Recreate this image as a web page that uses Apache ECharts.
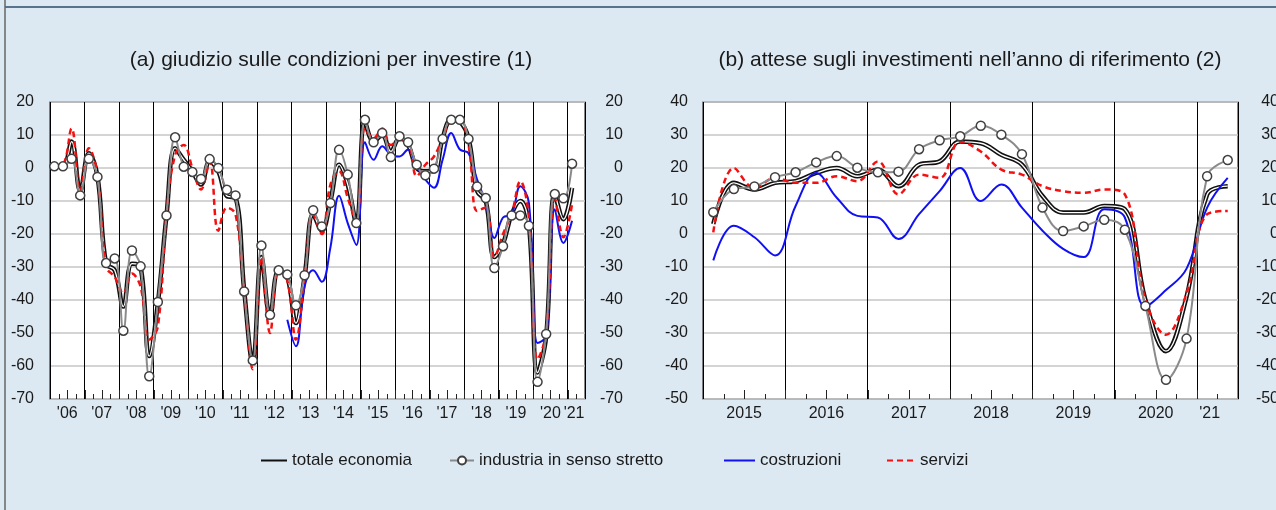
<!DOCTYPE html>
<html><head><meta charset="utf-8">
<script src="https://cdn.jsdelivr.net/npm/echarts@6/dist/echarts.min.js"></script>
<style>html,body{margin:0;padding:0;background:#dde9f2}#c{width:1276px;height:510px}</style>
</head><body><div id="c"></div><script>
// ---------- data: panel (a) quarterly 2006Q1..2021Q2 ----------
const yearsA = [2006,2007,2008,2009,2010,2011,2012,2013,2014,2015,2016,2017,2018,2019,2020,2021];
const yearLabelsA = ["'06","'07","'08","'09","'10","'11","'12","'13","'14","'15","'16","'17","'18","'19","'20","'21"];
const catsA = yearsA.flatMap(y => ['Q1','Q2','Q3','Q4'].map(q => y + q)).slice(0, 62);

const totaleA = [0.5,0.5,8,-7,4.5,-2.5,-29,-31,-42,-29,
  -30,-57,-41,-14.4,6,2.5,-1,-5,2,-1,
  -8.5,-9,-37,-59,-27,-45,-31,-33,-47,-33,
  -14,-19,-10,1,-5,-16.7,14,8,10,5,
  9,7,0,-1,-1,9,14.6,14,9,-7,
  -10,-27,-23,-14,-10,-17,-62,-51,-8,-15.5,
  -6];
const industriaA = [0.5,0.5,2.8,-8.3,2.8,-2.7,-28.8,-27.4,-49.3,-25,
  -29.8,-63.1,-40.6,-14.4,9.3,0.4,-1.2,-3.3,2.7,0,
  -6.6,-8.3,-37.4,-58.3,-23.5,-44.5,-31,-32.3,-41.6,-32.5,
  -12.8,-17.7,-10.6,5.5,-2,-16.7,14.6,7.8,10.6,3.3,
  9.6,7.8,1,-2.2,-0.2,8.8,14.6,14.6,8.8,-5.6,
  -9.1,-30.3,-23.7,-14.4,-14.4,-17.5,-64.8,-50.3,-7.9,-9.2,
  1.3];
const costruzioniA = [null,null,null,null,null,null,null,null,null,null,
  null,null,null,null,null,null,null,null,null,null,
  null,null,null,null,null,null,null,-46,-54,-36,
  -31,-34.5,-24,-8.4,-16.7,-23.3,7.8,2.5,6.6,4,
  3.5,5.6,0.5,-3.5,-6,2.5,10.6,5.6,4.5,-3.5,
  -10.6,-21.2,-15,-14,-5.5,-10.6,-53,-51,-12.5,-22.7,
  -16];
const serviziA = [0.5,1,12,-7,6,-2,-30,-33,-38,-32,
  -36,-52,-48,-14,4,7,0,-6.5,2,-19,
  -12,-14,-37,-61,-27,-50,-31,-34,-52,-33,
  -14,-20,-5,-1,-9,-16,12,9,12,7,
  8.5,8,-2.5,1,3.5,9,14,14,7,-13,
  -12,-27,-20,-14,-4,-15,-58,-50,-9,-21,
  -11];

// ---------- data: panel (b) quarterly 2015Q1..2021Q2 ----------
const yearsB = [2015,2016,2017,2018,2019,2020,2021];
const yearLabelsB = ['2015','2016','2017','2018','2019','2020',"'21"];
const catsB = yearsB.flatMap(y => ['Q1','Q2','Q3','Q4'].map(q => y + q)).slice(0, 26);

const totaleB = [3,15.5,13.5,15.5,16,18.5,20,17.5,19.5,14.5,21,22,28,27.5,24,21,11.5,6.5,6.5,8.5,7.5,-20,-35.5,-19,12,14.5];
const industriaB = [6.6,13.6,14.4,17.2,18.7,21.7,23.6,20.1,18.7,18.9,25.7,28.4,29.6,32.8,30.1,24.2,8.0,0.9,2.3,4.3,1.3,-21.8,-44.2,-31.7,17.5,22.4];
const costruzioniB = [-8,2.5,-1,-6.5,8.5,18.5,11,5.5,5,-1.5,6,13,20,10,15,8,1,-4.5,-7,7.5,5,-22,-17,-10.5,8,17];
const serviziB = [0.5,20,14,17,15.5,15.5,17.5,16,22,12,18,17,28,25,19.5,18,14.5,13,12.5,13.5,12,-20,-30.5,-18,6,7];

const titleA = '(a) giudizio sulle condizioni per investire (1)';
const titleB = '(b) attese sugli investimenti nell\u2019anno di riferimento (2)';
const names = ['totale economia', 'industria in senso stretto', 'costruzioni', 'servizi'];

const Y_A = [-70, 20];
const Y_B = [-50, 40];

// ---------- chart ----------
const FONT = "'Liberation Sans', Arial, sans-serif";
const TXT = '#1a1a1a';
const chart = echarts.init(document.getElementById('c'), null, {renderer: 'canvas'});

function grid(left) {
  return {left: left, top: 102, width: 535, height: 297, show: true, backgroundColor: '#ffffff',
          borderColor: '#3a3a3a', borderWidth: 1.2, containLabel: false, outerBoundsMode: 'none'};
}
function mainX(gi, cats, labels, lastIdx, shift, lastShift) {
  return {
    type: 'category', gridIndex: gi, data: cats, boundaryGap: true, position: 'bottom',
    axisLine: {show: false, onZero: false},
    axisTick: {show: false},
    splitLine: {show: true, interval: (i) => i % 4 === 0, lineStyle: {color: '#000', width: 1}},
    axisLabel: {
      show: true, margin: 7, color: TXT, fontSize: 16, fontFamily: FONT,
      interval: (i) => (i % 4 === 1 && i < lastIdx) || i === lastIdx,
      formatter: (v, i) => i === lastIdx ? '{b|' + labels[labels.length - 1] + '}' : '{a|' + labels[Math.floor(i / 4)] + '}',
      rich: {
        a: {padding: [0, 0, 0, shift], fontSize: 16, fontFamily: FONT, color: TXT},
        b: {padding: [0, 0, 0, lastShift], fontSize: 16, fontFamily: FONT, color: TXT}
      }
    }
  };
}
function yAx(gi, range, pos, margin) {
  return {
    type: 'value', gridIndex: gi, min: range[0], max: range[1], interval: 10, position: pos,
    axisLine: {show: false}, axisTick: {show: false},
    splitLine: {show: pos === 'left', lineStyle: {color: '#c6c6c6', width: 1.5}},
    axisLabel: {show: true, margin: margin, align: 'right', color: TXT, fontSize: 16, fontFamily: FONT}
  };
}
// quarter ticks on the bottom edge (longer at half-years), placed through the axis scale
function tickSeries(xi, yi, cats, yMin) {
  return {
    type: 'custom', xAxisIndex: xi, yAxisIndex: yi, silent: true, z: 7, clip: false,
    data: cats.map((c, i) => [i, yMin]).slice(1),
    renderItem: function (params, api) {
      const i = api.value(0);
      const p = api.coord([i, api.value(1)]);
      const w = api.size([1, 0])[0];
      const x = Math.round(p[0] - w / 2) + 0.5;
      const len = (i % 2 === 0) ? 9 : 5;
      return {type: 'line', shape: {x1: x, y1: p[1], x2: x, y2: p[1] - len},
              style: {stroke: '#222', lineWidth: 1}};
    }
  };
}
function seriesFor(xi, yi, tot, ind, cos, ser) {
  return [
    {name: names[0], type: 'line', xAxisIndex: xi, yAxisIndex: yi, data: tot, smooth: 0.4, showSymbol: false,
     symbol: 'none', lineStyle: {color: '#111', width: 4.5}, itemStyle: {color: '#111'}, z: 2},
    {name: 'totale_inner', type: 'line', xAxisIndex: xi, yAxisIndex: yi, data: tot, smooth: 0.4, showSymbol: false,
     symbol: 'none', lineStyle: {color: '#ffffff', width: 1.3}, silent: true, z: 3},
    {name: names[2], type: 'line', xAxisIndex: xi, yAxisIndex: yi, data: cos, smooth: 0.4, showSymbol: false,
     symbol: 'none', connectNulls: false, lineStyle: {color: '#1010f5', width: 2}, itemStyle: {color: '#1010f5'}, z: 4},
    {name: names[3], type: 'line', xAxisIndex: xi, yAxisIndex: yi, data: ser, smooth: 0.4, showSymbol: false,
     symbol: 'none', lineStyle: {color: '#f50f0f', width: 2.5, type: [6, 4]}, itemStyle: {color: '#f50f0f'}, z: 5},
    {name: names[1], type: 'line', xAxisIndex: xi, yAxisIndex: yi, data: ind, smooth: 0.4, showSymbol: true,
     showAllSymbol: true, symbol: 'circle', symbolSize: 9, lineStyle: {color: '#8a8a8a', width: 2},
     itemStyle: {color: '#ffffff', borderColor: '#404040', borderWidth: 1.5}, z: 6}
  ];
}
function legend(left, name, w, hideSymbol) {
  const item = hideSymbol ? {name: name, itemStyle: {opacity: 0}} : {name: name};
  return {show: true, left: left, top: 452, itemWidth: w, itemHeight: 10, itemGap: 0, padding: 0,
          data: [item], selectedMode: false, textStyle: {fontSize: 17, fontFamily: FONT, color: TXT}};
}

const option = {
  animation: false,
  backgroundColor: '#dde9f2',
  title: [
    {text: titleA, left: 326, top: 45, textAlign: 'center', textStyle: {fontSize: 21, fontWeight: 'normal', fontFamily: FONT, color: TXT}},
    {text: titleB, left: 965, top: 45, textAlign: 'center', textStyle: {fontSize: 21, fontWeight: 'normal', fontFamily: FONT, color: TXT}}
  ],
  legend: [
    legend(260, names[0], 26, true),
    legend(449, names[1], 24, false),
    legend(723, names[2], 31, true),
    legend(886, names[3], 28, true)
  ],
  grid: [grid(50), grid(703)],
  xAxis: [
    mainX(0, catsA, yearLabelsA, 60, 8.63, 4),
    mainX(1, catsB, yearLabelsB, 24, 20.6, 5)
  ],
  yAxis: [
    yAx(0, Y_A, 'left', 16),
    yAx(0, Y_A, 'right', 38),
    yAx(1, Y_B, 'left', 15),
    yAx(1, Y_B, 'right', 41)
  ],
  series: [
    ...seriesFor(0, 0, totaleA, industriaA, costruzioniA, serviziA),
    ...seriesFor(1, 2, totaleB, industriaB, costruzioniB, serviziB),
    tickSeries(0, 0, catsA, Y_A[0]),
    tickSeries(1, 2, catsB, Y_B[0])
  ],
  graphic: [
    {type: 'line', shape: {x1: 5, y1: 7, x2: 1276, y2: 7}, style: {stroke: '#2b4c6b', lineWidth: 1.5}, silent: true},
    {type: 'line', shape: {x1: 5, y1: 0, x2: 5, y2: 510}, style: {stroke: '#666666', lineWidth: 1.5}, silent: true}
  ]
};
chart.setOption(option);
</script></body></html>
